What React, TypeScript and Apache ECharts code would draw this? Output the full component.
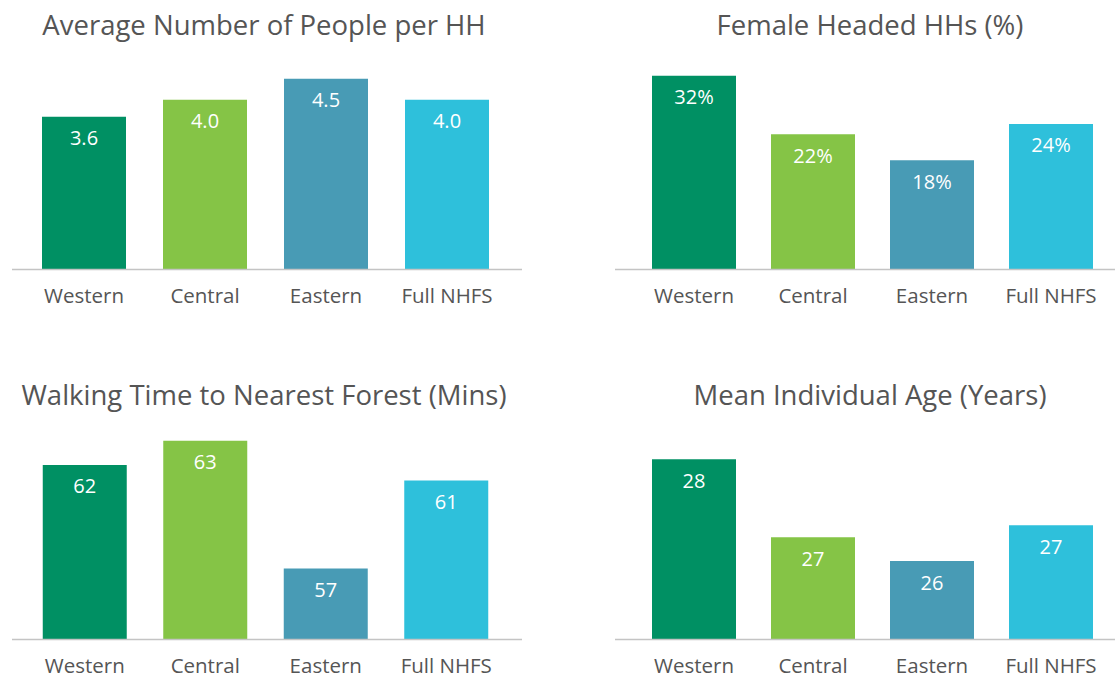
import React, { useEffect, useRef } from "react";
import * as echarts from "echarts";

const categories = ["Western", "Central", "Eastern", "Full NHFS"];
const colors = ["#009063", "#85C446", "#489BB5", "#2EC0DB"];

const titles = [
  "Average Number of People per HH",
  "Female Headed HHs (%)",
  "Walking Time to Nearest Forest (Mins)",
  "Mean Individual Age (Years)",
];

const peoplePerHH = [3.6, 4.0, 4.5, 4.0];
const femaleHeaded = [32, 22.3, 18, 24];
const walkingTime = [61.9, 63.0, 57.2, 61.2];
const meanAge = [28.0, 26.7, 26.3, 26.9];

const labelFormats = [
  (v: number) => v.toFixed(1),
  (v: number) => Math.round(v) + "%",
  (v: number) => String(Math.round(v)),
  (v: number) => String(Math.round(v)),
];

const FONT = "'Open Sans', sans-serif";
const TEXT = "#555555";

export default function App() {
  const ref = useRef<HTMLDivElement>(null);
  useEffect(() => {
    if (!ref.current) return;
    const chart = echarts.init(ref.current, undefined, { renderer: "svg" });
    const data = [peoplePerHH, femaleHeaded, walkingTime, meanAge];
    const yRanges = [
      [0, 5],
      [0, 35],
      [54, 63.6],
      [25, 28.53],
    ];
    const panels = [
      { left: 23.5, width: 484, top: 57.5, lx1: 12, lx2: 522, tx: 264, ty: 24 },
      { left: 634.5, width: 476, top: 57.5, lx1: 615, lx2: 1115, tx: 870, ty: 24 },
      { left: 24.5, width: 482, top: 427.5, lx1: 12, lx2: 522, tx: 264, ty: 394 },
      { left: 634.5, width: 476, top: 427.5, lx1: 615, lx2: 1115, tx: 870, ty: 394 },
    ];
    const gh = 211.5;

    const option: any = {
      animation: false,
      backgroundColor: "#ffffff",
      grid: panels.map((p) => ({
        left: p.left,
        width: p.width,
        top: p.top,
        height: gh,
        containLabel: false,
      })),
      xAxis: panels.map((_, i) => ({
        type: "category",
        gridIndex: i,
        data: categories,
        axisLine: { show: false },
        axisTick: { show: false },
        axisLabel: {
          interval: 0,
          hideOverlap: false,
          color: TEXT,
          fontFamily: FONT,
          fontSize: 20.5,
          margin: 15,
        },
      })),
      yAxis: panels.map((_, i) => ({
        type: "value",
        gridIndex: i,
        min: yRanges[i][0],
        max: yRanges[i][1],
        show: false,
        splitLine: { show: false },
      })),
      series: data.map((vals, i) => ({
        type: "bar",
        xAxisIndex: i,
        yAxisIndex: i,
        barWidth: 84,
        data: vals.map((v, j) => ({ value: v, itemStyle: { color: colors[j] } })),
        label: {
          show: true,
          position: "insideTop",
          distance: 11,
          color: "#ffffff",
          fontFamily: FONT,
          fontSize: 20,
          formatter: (p: any) => labelFormats[i](p.value),
        },
      })),
      graphic: [
        ...panels.map((p) => ({
          type: "line",
          shape: { x1: p.lx1, y1: p.top + gh + 0.5, x2: p.lx2, y2: p.top + gh + 0.5 },
          style: { stroke: "#c4c4c4", lineWidth: 1.5 },
          z: 10,
        })),
        ...panels.map((p, i) => ({
          type: "text",
          x: p.tx,
          y: p.ty,
          style: {
            text: titles[i],
            fill: TEXT,
            font: `27.5px ${FONT}`,
            textAlign: "center",
            textVerticalAlign: "middle",
          },
        })),
      ],
    };
    chart.setOption(option);
    return () => chart.dispose();
  }, []);
  return (
    <div
      ref={ref}
      style={{ position: "fixed", left: 0, top: 0, width: 1115, height: 677 }}
    />
  );
}
